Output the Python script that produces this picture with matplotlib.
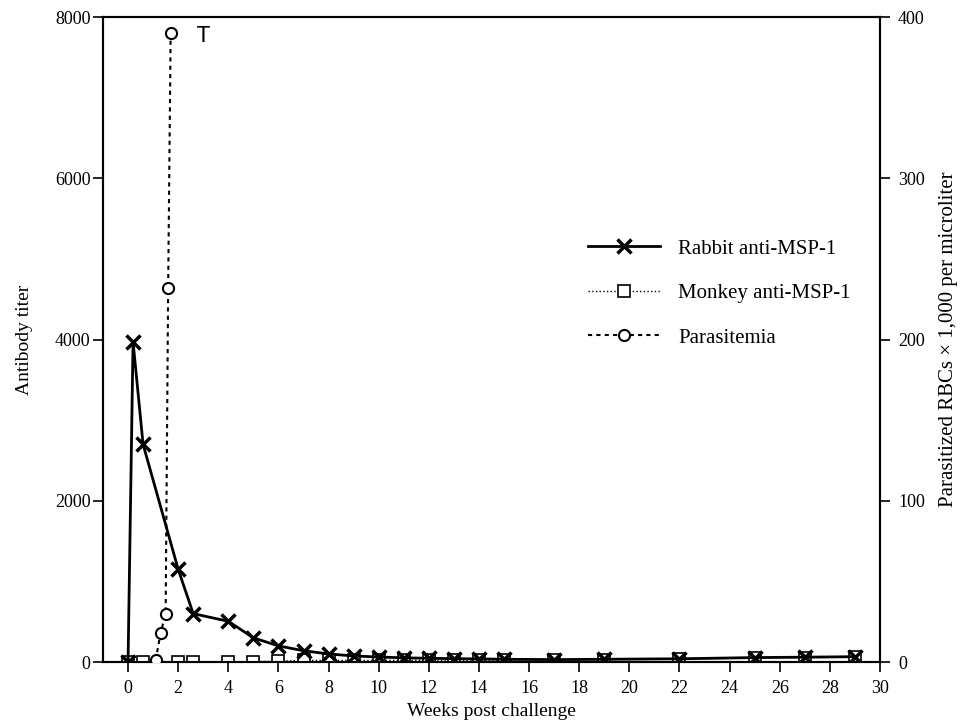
import matplotlib
matplotlib.use("Agg")
import matplotlib.pyplot as plt

plt.rcParams["font.family"] = ["Liberation Serif", "DejaVu Serif"]

# data (weeks post challenge)
rabbit_weeks = [0, 0.2, 0.6, 2, 2.6, 4, 5, 6, 7, 8, 9, 10, 11, 12, 13, 14, 15, 17, 19, 22, 25, 27, 29]
rabbit_titer = [0, 3970, 2700, 1150, 600, 505, 300, 200, 140, 100, 75, 62, 52, 46, 42, 38, 34, 30, 34, 40, 55, 60, 66]

monkey_weeks = [0, 0.6, 2, 2.6, 4, 5, 6, 7, 8, 9, 10, 11, 12, 13, 14, 15, 17, 19, 22, 25, 27, 29]
monkey_titer = [0, 0, 0, 0, 0, 5, 10, 20, 20, 20, 20, 20, 22, 22, 22, 22, 25, 30, 35, 50, 55, 60]

para_weeks = [1.1, 1.3, 1.5, 1.6, 1.7]
para_count = [1, 18, 30, 232, 390]

x_ticks = list(range(0, 31, 2))
left_ticks = [0, 2000, 4000, 6000, 8000]
right_ticks = [0, 100, 200, 300, 400]

fig = plt.figure(figsize=(9.66, 7.27), dpi=100)
ax = fig.add_axes([0.1066, 0.0894, 0.8044, 0.8872])
ax2 = ax.twinx()

h_rabbit, = ax.plot(rabbit_weeks, rabbit_titer, color="black", lw=2.0,
                    marker="x", ms=10, mew=2.5, label="Rabbit anti-MSP-1", zorder=4)
h_monkey, = ax.plot(monkey_weeks, monkey_titer, color="black", lw=1.0, ls=":",
                    marker="s", ms=9, mfc="white", mec="black", mew=1.2,
                    label="Monkey anti-MSP-1", zorder=3)
h_para, = ax2.plot(para_weeks, para_count, color="black", lw=1.5, ls=(0, (2, 2)),
                   marker="o", ms=8, mfc="white", mec="black", mew=1.5,
                   label="Parasitemia", zorder=5)

ax.set_xlim(-1, 30)
ax.set_ylim(0, 8000)
ax2.set_ylim(0, 400)

ax.set_xticks(x_ticks)
ax.set_xticklabels([str(t) for t in x_ticks])
ax.set_yticks(left_ticks)
ax.set_yticklabels([str(t) for t in left_ticks])
ax2.set_yticks(right_ticks)
ax2.set_yticklabels([str(t) for t in right_ticks])

ax.tick_params(axis="both", labelsize=13, direction="out", length=7, width=1.2, color="black")
ax.tick_params(axis="x", pad=6)
ax.tick_params(axis="y", pad=2)
ax2.tick_params(axis="y", labelsize=13, direction="out", length=7, width=1.2, pad=6)

for a in (ax, ax2):
    for s in a.spines.values():
        s.set_linewidth(1.5)

ax.set_xlabel("Weeks post challenge", fontsize=14, labelpad=4)
ax.set_ylabel("Antibody titer", fontsize=14, labelpad=16)
ax2.set_ylabel("Parasitized RBCs \u00d7 1,000 per microliter", fontsize=15, labelpad=10)

ax.text(2.75, 7760, "T", fontsize=15, family="DejaVu Sans", va="center", ha="left")

ax2.legend(handles=[h_rabbit, h_monkey, h_para], loc="upper left",
           bbox_to_anchor=(0.6, 0.685), frameon=False, fontsize=15,
           handlelength=3.45, handletextpad=0.87, labelspacing=1.2)

fig.savefig("out.png", dpi=100)
